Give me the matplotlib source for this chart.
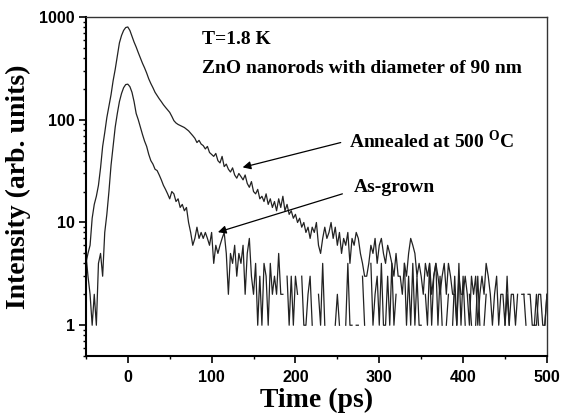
import numpy as np
import matplotlib
matplotlib.use('Agg')
import matplotlib.pyplot as plt
from matplotlib.ticker import FixedLocator, MultipleLocator, NullFormatter

# time axis of the streak-camera trace (ps)
time_ps = np.arange(-50, 500.1, 2.5)

# PL intensity, annealed at 500 C  (rows of 10 -> 25 ps each)
annealed = [
    4, 5, 6, 11, 15, 18, 23, 34, 55, 75,             # -50
    105, 135, 175, 240, 310, 420, 560, 660, 740, 790,  # -25
    800, 740, 650, 570, 510, 450, 400, 355, 320, 285,  # 0
    250, 225, 205, 185, 172, 160, 150, 140, 132, 125,  # 25
    118, 108, 98, 93, 90, 88, 86, 84, 81, 78,          # 50
    74, 70, 66, 60, 63, 58, 56, 52, 55, 48,            # 75
    46, 44, 47, 40, 38, 44, 35, 37, 33, 31,            # 100
    34, 29, 27, 30, 28, 26, 29, 24, 22, 25,            # 125
    20, 19, 21, 17, 18, 16, 19, 15, 17, 14,            # 150
    16, 13, 17, 14, 18, 13, 15, 12, 13, 11,            # 175
    12, 10, 11, 9, 10, 8, 9, 7, 9, 8,                  # 200
    10, 6, 5, 7, 9, 7, 8, 10, 7, 9,                    # 225
    6, 8, 5, 7, 6, 8, 4, 7, 6, 8,                      # 250
    7, 5, 4, 3, 3, 4, 6, 5, 7, 4,                      # 275
    6, 7, 5, 4, 6, 5, 4, 3, 5, 3,                      # 300
    3, 2, 4, 3, 5, 7, 6, 5, 3, 4,                      # 325
    3, 2, 4, 3, 4, 2, 3, 4, 3, 2,                      # 350
    3, 4, 2, 4, 3, 2, 2, 1, 3, 2,                      # 375
    2, 3, 2, 1, 3, 2, 3, 1, 2, 3,                      # 400
    2, 4, 3, 2, 1, 2, 3, 1, 2, 2,                      # 425
    1, 3, 1, 2, 2, 1, 2, 0, 2, 2,                      # 450
    0, 2, 2, 1, 1, 1, 2, 2, 1, 1,                      # 475
    2,                                                 # 500
]

# PL intensity, as-grown rods
as_grown = [
    5, 3, 2, 1, 2, 1, 4, 5, 3, 8,                      # -50
    12, 20, 36, 55, 85, 115, 150, 180, 205, 220,       # -25
    222, 210, 185, 150, 115, 100, 85, 72, 62, 55,      # 0
    46, 40, 37, 33, 32, 29, 26, 23, 21, 19,            # 25
    17, 20, 19, 16, 17, 14, 15, 13, 14, 10,            # 50
    8, 6, 7, 9, 7, 8, 7, 8, 7, 6,                      # 75
    8, 4, 6, 5, 6, 7, 8, 5, 2, 5,                      # 100
    4, 6, 3, 5, 4, 6, 2, 5, 7, 3,                      # 125
    2, 4, 1, 3, 1, 4, 3, 1, 4, 2,                      # 150
    3, 2, 5, 2, 2, 0, 3, 1, 3, 1,                      # 175
    3, 2, 0, 3, 1, 1, 2, 3, 1, 0,                      # 200
    0, 2, 1, 4, 1, 0, 1, 0, 0, 1,                      # 225
    2, 1, 0, 0, 1, 4, 1, 1, 0, 1,                      # 250
    1, 0, 3, 1, 0, 0, 4, 1, 2, 3,                      # 275
    1, 4, 1, 1, 3, 1, 4, 1, 2, 0,                      # 300
    2, 0, 4, 1, 3, 1, 4, 1, 3, 1,                      # 325
    1, 0, 2, 1, 4, 1, 3, 4, 1, 3,                      # 350
    1, 0, 1, 2, 0, 1, 3, 1, 4, 1,                      # 375
    3, 1, 0, 2, 1, 0, 1, 3, 1, 0,                      # 400
    1, 2, 0, 0, 2, 0, 0, 0, 2, 0,                      # 425
    1, 2, 1, 0, 0, 0, 0, 2, 0, 2,                      # 450
    1, 0, 0, 0, 1, 2, 1, 0, 0, 1,                      # 475
    2,                                                 # 500
]

x_ticks = [0, 100, 200, 300, 400, 500]
y_ticks = [1, 10, 100, 1000]
y_ticklabels = ['1', '10', '100', '1000']

plt.rcParams['mathtext.fontset'] = 'custom'
plt.rcParams['mathtext.rm'] = 'Liberation Serif:bold'
plt.rcParams['mathtext.bf'] = 'Liberation Serif:bold'

SERIF = dict(family='Liberation Serif', weight='bold')
SANS = dict(family='Liberation Sans', weight='bold', size=11.5)

fig = plt.figure(figsize=(5.65, 4.2), dpi=100)
ax = fig.add_axes([0.152, 0.152, 0.816, 0.8075])

# zero counts -> gaps on the log axis
ann = np.array(annealed, dtype=float)
asg = np.array(as_grown, dtype=float)
ann[ann <= 0] = np.nan
asg[asg <= 0] = np.nan

ax.plot(time_ps, ann, color='#222222', lw=0.9)
ax.plot(time_ps, asg, color='#222222', lw=0.9)

ax.set_yscale('log')
ax.set_xlim(-50, 500)
ax.set_ylim(0.5, 1000)

ax.set_xticks(x_ticks)
ax.set_xticklabels([str(v) for v in x_ticks], fontdict=SANS)
ax.xaxis.set_minor_locator(MultipleLocator(50))
ax.set_yticks(y_ticks)
ax.set_yticklabels(y_ticklabels, fontdict=SANS)
minors = [m * 10.0 ** e for e in range(-1, 3) for m in range(2, 10)]
ax.yaxis.set_minor_locator(FixedLocator([v for v in minors if v >= 0.5]))
ax.yaxis.set_minor_formatter(NullFormatter())

ax.tick_params(which='major', direction='out', length=5, width=1.2, pad=3)
ax.tick_params(which='minor', direction='out', length=2.5, width=1.0)
ax.tick_params(axis='x', which='major', pad=5)
ax.tick_params(top=False, right=False)

for s in ['left', 'bottom']:
    ax.spines[s].set_linewidth(1.5)
for s in ['top', 'right']:
    ax.spines[s].set_linewidth(1.0)
    ax.spines[s].set_color('#333333')

ax.set_xlabel('Time (ps)', fontsize=20, labelpad=2, **SERIF)
ax.set_ylabel('Intensity (arb. units)', fontsize=20, labelpad=6, **SERIF)

ax.text(89, 547, 'T=1.8 K', fontsize=14, va='baseline', **SERIF)
ax.text(89, 286, 'ZnO nanorods with diameter of 90 nm', fontsize=14, va='baseline', **SERIF)
ax.text(264, 53.5, r'Annealed at 500 $^{\mathbf{O}}$C', fontsize=14, va='baseline', **SERIF)
ax.text(270, 19.6, 'As-grown', fontsize=14, va='baseline', **SERIF)

arrow = dict(arrowstyle='-|>', color='black', lw=0.9, mutation_scale=12,
             shrinkA=0, shrinkB=0)
ax.annotate('', xy=(137, 34.4), xytext=(254, 60), arrowprops=arrow)
ax.annotate('', xy=(107.5, 8.05), xytext=(256, 19), arrowprops=arrow)

fig.savefig('out.png', dpi=100)
